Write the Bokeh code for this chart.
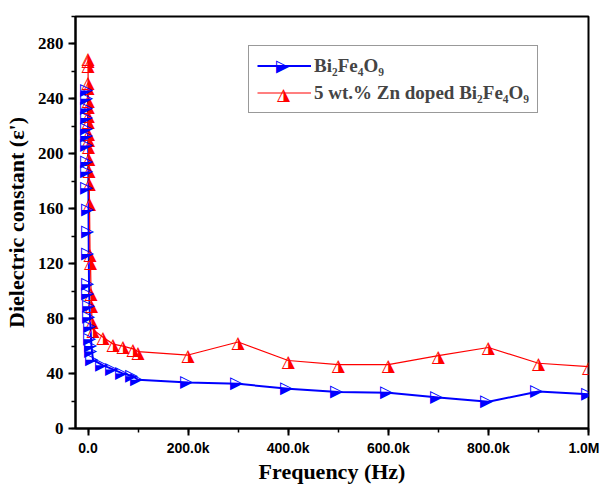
import math
from bokeh.plotting import figure
from bokeh.models import Range1d, SingleIntervalTicker, Legend, LegendItem, ColumnDataSource, Label
from bokeh.core.properties import value
from bokeh.embed import file_html
from bokeh.resources import INLINE

# ---- data ----
freq_hz = [100, 120, 150, 200, 250, 300, 400, 500, 600, 800, 1000, 1200, 1500,
           2000, 2500, 3000, 4000, 5000, 6000, 7000, 8000, 10000,
           30000, 50000, 70000, 90000, 100000,
           200000, 300000, 400000, 500000, 600000, 700000, 800000, 900000, 1000000]

eps_bfo = [246, 240, 233, 226, 218, 213, 206, 194, 187, 175, 159, 143, 127,
           105, 98, 89, 81, 74, 65, 60, 56, 50,
           46, 43, 40, 38, 35.5,
           33.5, 32.5, 29, 26.5, 26, 22.5, 19.5, 27, 25]

eps_zn = [270, 268, 265, 252, 249, 239, 235, 228, 224, 215, 211, 206, 197,
          188, 179, 164, 127, 121, 99, 90, 78, 72,
          66.5, 61.5, 60, 58, 56,
          53.5, 63, 49.5, 46.5, 46.5, 53, 59, 47.5, 45]

series_labels = ["Bi\u2082Fe\u2084O\u2089", "5 wt.% Zn doped Bi\u2082Fe\u2084O\u2089"]

x_tick_values = [0, 200000, 400000, 600000, 800000, 1000000]
x_tick_labels = ["0.0", "200.0k", "400.0k", "600.0k", "800.0k", "1.0M"]

BLUE = "#0000ff"
RED = "#ff0000"
MARK = "\u25ee"  # triangle with right half filled

src = ColumnDataSource(dict(f=freq_hz, b=eps_bfo, z=eps_zn))

p = figure(width=599, height=486, output_backend="svg", toolbar_location=None,
           x_range=Range1d(-25000, 1000000), y_range=Range1d(0, 300))
p.min_border_left = 75
p.min_border_right = 11
p.min_border_top = 16
p.min_border_bottom = 56
p.xgrid.visible = False
p.ygrid.visible = False
p.outline_line_color = "black"
p.outline_line_width = 2
p.background_fill_color = "white"
p.border_fill_color = "white"

# lines
bl = p.line("f", "b", source=src, line_color=BLUE, line_width=2)
rl = p.line("f", "z", source=src, line_color=RED, line_width=1.2)

# half-filled triangle markers as text glyphs
p.text("f", "z", source=src, text=value(MARK), text_color=RED,
       text_font=value("DejaVu Sans"), text_font_size="17px",
       text_align="center", text_baseline="middle")
p.text("f", "b", source=src, text=value(MARK), text_color=BLUE,
       angle=-math.pi / 2,
       text_font=value("DejaVu Sans"), text_font_size="17px",
       text_align="center", text_baseline="middle")

# legend markers (screen units, relative to the plot frame's bottom-left)
p.add_layout(Label(x=208, y=361.5, x_units="screen", y_units="screen", text=MARK,
                   text_color=BLUE, angle=-math.pi / 2, text_font="DejaVu Sans",
                   text_font_size="17px", text_align="center", text_baseline="middle"))
p.add_layout(Label(x=208, y=334.5, x_units="screen", y_units="screen", text=MARK,
                   text_color=RED, text_font="DejaVu Sans",
                   text_font_size="17px", text_align="center", text_baseline="middle"))

legend = Legend(items=[LegendItem(label=series_labels[0], renderers=[bl]),
                       LegendItem(label=series_labels[1], renderers=[rl])],
                location=(173, 315))
legend.label_text_font = "Liberation Serif"
legend.label_text_font_style = "bold"
legend.label_text_font_size = "19px"
legend.glyph_width = 54
legend.glyph_height = 23
legend.label_height = 23
legend.spacing = 4
legend.padding = 8
legend.margin = 0
legend.label_standoff = 3
legend.border_line_color = "#333333"
legend.border_line_width = 1.5
legend.background_fill_alpha = 0.0
p.add_layout(legend)

# axes
xa = p.xaxis[0]
xa.ticker = SingleIntervalTicker(interval=200000, num_minor_ticks=2)
xa.major_label_overrides = {v: s for v, s in zip(x_tick_values, x_tick_labels)}
xa.axis_label = "Frequency (Hz)"
ya = p.yaxis[0]
ya.ticker = SingleIntervalTicker(interval=40, num_minor_ticks=2)
ya.axis_label = "Dielectric constant (\u03b5')"

for ax in (xa, ya):
    ax.axis_line_width = 2
    ax.axis_line_color = "black"
    ax.major_tick_line_width = 2
    ax.minor_tick_line_width = 1.5
    ax.major_tick_out = 7
    ax.major_tick_in = 0
    ax.minor_tick_out = 4
    ax.minor_tick_in = 0
    ax.axis_label_text_font = "Liberation Serif"
    ax.axis_label_text_font_style = "bold"
    ax.axis_label_text_font_size = "22px"
    ax.axis_label_text_color = "black"
    ax.major_label_text_color = "black"
    ax.major_label_text_font_style = "bold"

xa.major_label_text_font = "Liberation Sans"
xa.major_label_text_font_size = "14px"
xa.major_label_standoff = 4
xa.axis_label_standoff = 0
ya.major_label_text_font = "Liberation Serif"
ya.major_label_text_font_size = "17px"
ya.axis_label_standoff = 6

open("out.html", "w").write(file_html(p, INLINE))
